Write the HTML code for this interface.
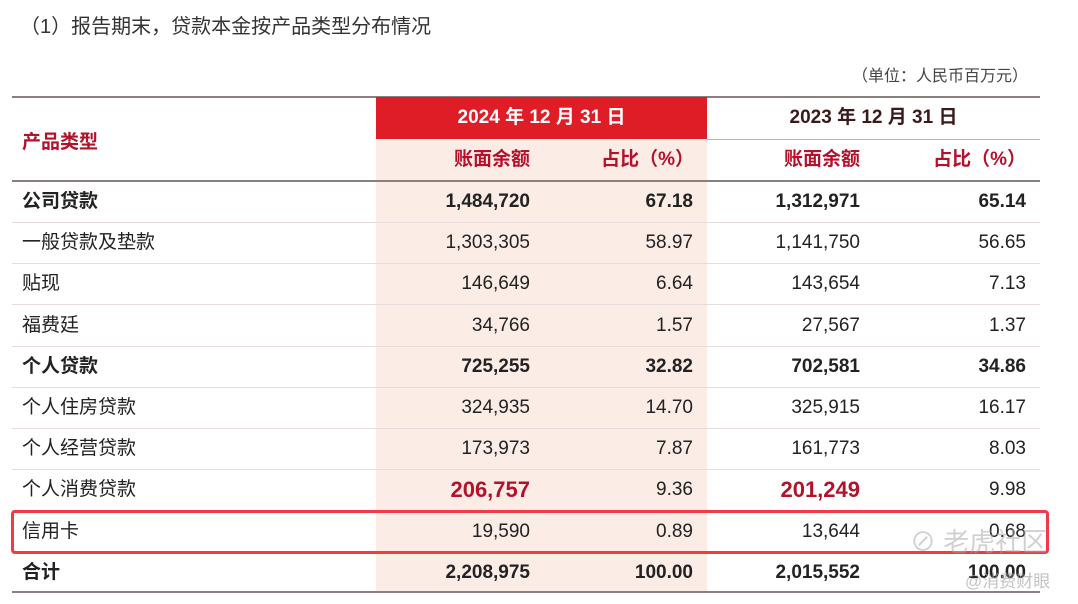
<!DOCTYPE html>
<html><head><meta charset="utf-8"><style>
body{margin:0;width:1078px;height:604px;background:#fff;position:relative;overflow:hidden;font-family:"Liberation Sans","Noto Sans CJK SC",sans-serif;color:#222}
.a{position:absolute;white-space:nowrap}
.r{text-align:right}
.row{position:absolute;left:12px;width:1028px;height:41px;border-bottom:1px solid #e6dcdc}
.c{position:absolute;top:0;line-height:41px;font-size:19px}
.b{font-weight:bold}
.red{color:#b3122a}
</style></head><body>
<div class="a" style="left:20px;top:10px;font-size:20px;color:#333">（1）报告期末，贷款本金按产品类型分布情况</div>
<div class="a" style="right:50px;top:62px;font-size:16px;color:#444">（单位：人民币百万元）</div>
<div class="a" style="left:12px;top:96px;width:1028px;height:2px;background:#8a7f7f"></div>
<div class="a" style="left:376px;top:139px;width:331px;height:452px;background:#fbece6"></div>
<div class="a" style="left:376px;top:97px;width:331px;height:42px;background:#de1d26;color:#fff;font-size:19px;font-weight:bold;line-height:42px;text-align:center">2024 年 12 月 31 日</div>
<div class="a" style="left:707px;top:97px;width:333px;height:42px;border-bottom:1px solid #c9a9a9;color:#3a1a1a;font-size:19px;font-weight:bold;line-height:42px;text-align:center">2023 年 12 月 31 日</div>
<div class="a red b" style="left:22px;top:127px;font-size:19px">产品类型</div>
<div class="row" style="top:139px;border-bottom:2px solid #8a7f7f">
<div class="c red b r" style="left:330px;width:188px">账面余额</div>
<div class="c red b r" style="left:500px;width:182px">占比（%）</div>
<div class="c red b r" style="left:660px;width:188px">账面余额</div>
<div class="c red b r" style="left:830px;width:184px">占比（%）</div>
</div>
<div id="rows"></div>
<div class="a" style="left:11px;top:510px;width:1032px;height:38px;border:3px solid #ee3b45;border-radius:4px"></div>
<div class="a" style="left:12px;top:591px;width:1028px;height:2px;background:#8a7f7f"></div>
<div class="a" style="left:910px;top:522px;font-size:26px;color:rgba(170,170,170,0.55)">⊘ 老虎社区</div>
<div class="a" style="left:965px;top:567px;font-size:17px;color:rgba(170,170,170,0.7)">@消费财眼</div>
<script>
const names=["公司贷款","一般贷款及垫款","贴现","福费廷","个人贷款","个人住房贷款","个人经营贷款","个人消费贷款","信用卡","合计"];
const v24=["1,484,720","1,303,305","146,649","34,766","725,255","324,935","173,973","206,757","19,590","2,208,975"];
const p24=["67.18","58.97","6.64","1.57","32.82","14.70","7.87","9.36","0.89","100.00"];
const v23=["1,312,971","1,141,750","143,654","27,567","702,581","325,915","161,773","201,249","13,644","2,015,552"];
const p23=["65.14","56.65","7.13","1.37","34.86","16.17","8.03","9.98","0.68","100.00"];
const bold=[1,0,0,0,1,0,0,0,0,1];
const host=document.getElementById('rows');
names.forEach((n,i)=>{
 const r=document.createElement('div');r.className='row';r.style.top=(181+i*41.2)+'px';
 
 
 if(i==9)r.style.borderBottom='none';
 const b=bold[i]?' b':'';
 const hi=i==7?' b red':'';
 r.innerHTML=`<div class="c${b}" style="left:10px">${n}</div>
<div class="c r${b}${hi}" style="left:318px;width:200px;${i==7?'font-size:22px':''}">${v24[i]}</div>
<div class="c r${b}" style="left:500px;width:181px">${p24[i]}</div>
<div class="c r${b}${hi}" style="left:648px;width:200px;${i==7?'font-size:22px':''}">${v23[i]}</div>
<div class="c r${b}" style="left:830px;width:184px">${p23[i]}</div>`;
 host.appendChild(r);
});
</script>
</body></html>
